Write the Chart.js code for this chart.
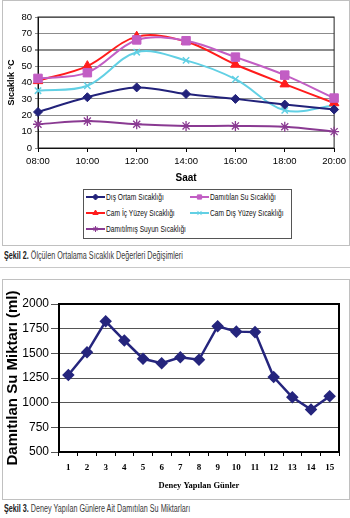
<!DOCTYPE html>
<html>
<head>
<meta charset="utf-8">
<script src="https://cdn.jsdelivr.net/npm/chart.js@4.4.0/dist/chart.umd.min.js"></script>
<style>
body { margin:0; width:350px; height:518px; position:relative; background:#fff; overflow:hidden; font-family:'Liberation Sans', Arial, sans-serif; }
.frame { position:absolute; border:1px solid #c0c0c0; box-sizing:border-box; }
#frame1 { left:2px; top:0; width:348px; height:246px; }
#frame2 { left:2px; top:279px; width:348px; height:221px; }
#sep { position:absolute; left:0; top:267px; width:350px; border-top:1px solid #c8c8c8; }
.cap { position:absolute; left:4px; font-family:'Liberation Sans', Arial, sans-serif; font-size:10px; color:#3a3a3a; white-space:nowrap; transform:scaleX(0.72); transform-origin:0 0; }
.cap b { color:#222; }
#cap1 { top:250px; }
#cap2 { top:503px; }
#wrap1 { position:absolute; left:0; top:0; width:350px; height:190px; }
#wrap2 { position:absolute; left:0; top:280px; width:350px; height:215px; }
#legend1 { position:absolute; left:83px; top:189px; width:209px; height:50px; border:1px solid #555; box-sizing:border-box; background:#fff; }
.li { position:absolute; height:10px; }
.li canvas { position:absolute; left:0; top:0; }
.li span { position:absolute; left:20px; top:0; line-height:10px; font-family:'Liberation Sans', Arial, sans-serif; font-size:9px; color:#111; white-space:nowrap; transform:scaleX(0.74); transform-origin:0 50%; }
</style>
</head>
<body>
<div class="frame" id="frame1"></div>
<div id="wrap1"><canvas id="tempChart"></canvas></div>
<div id="legend1"></div>
<div class="cap" id="cap1"><b>Şekil 2.</b> Ölçülen Ortalama Sıcaklık Değerleri Değişimleri</div>
<div id="sep"></div>
<div class="frame" id="frame2"></div>
<div id="wrap2"><canvas id="waterChart"></canvas></div>
<div class="cap" id="cap2"><b>Şekil 3.</b> Deney Yapılan Günlere Ait Damıtılan Su Miktarları</div>
<script>
// chart 1 - temperatures
var hours = ['08:00', '10:00', '12:00', '14:00', '16:00', '18:00', '20:00'];
var disOrtam = [22, 31, 37, 33, 30, 26.5, 23.5];
var damitilanSu = [42.5, 46, 66, 65.5, 55.5, 44.5, 30.5];
var camIc = [41, 50, 68, 65, 51, 39, 27.5];
var camDis = [35, 38, 58.5, 53.5, 42, 23, 26];
var damitilmis = [14.5, 16.5, 14.5, 13.5, 13.5, 13, 10];
var tempMin = 0, tempMax = 80, tempStep = 10;

// chart 2 - distilled water
var days = ['1', '2', '3', '4', '5', '6', '7', '8', '9', '10', '11', '12', '13', '14', '15'];
var water = [1280, 1510, 1825, 1630, 1445, 1400, 1460, 1435, 1775, 1720, 1715, 1260, 1055, 930, 1065];
var waterMin = 500, waterMax = 2000, waterStep = 250;

var SANS = "'Liberation Sans', Arial, sans-serif";
var SERIF = "'Liberation Serif', 'Times New Roman', serif";

// border round the plot area
var plotFrame = {
    id: 'plotFrame',
    beforeDatasetsDraw: function (chart, args, opts) {
        var a = chart.chartArea, ctx = chart.ctx;
        ctx.save();
        ctx.strokeStyle = opts.color || '#000';
        ctx.lineWidth = opts.width || 1;
        ctx.strokeRect(a.left, a.top, a.right - a.left, a.bottom - a.top);
        ctx.restore();
    }
};

function serie(label, data, color, style, radius, bw) {
    return {
        label: label,
        data: data,
        borderColor: color,
        backgroundColor: color,
        pointBackgroundColor: color,
        pointBorderColor: color,
        pointStyle: style,
        pointRadius: radius,
        pointBorderWidth: bw,
        borderWidth: 2,
        tension: 0.35,
        fill: false
    };
}

var ctx1 = document.getElementById('tempChart');
var tempChart = new Chart(ctx1, {
    type: 'line',
    data: {
        labels: hours,
        datasets: [
            serie('Dış Ortam Sıcaklığı', disOrtam, '#22227a', 'rectRot', 4.5, 1),
            serie('Damıtılan Su Sıcaklığı', damitilanSu, '#c25ec4', 'rect', 6, 1),
            serie('Cam İç Yüzey Sıcaklığı', camIc, '#ff1c1c', 'triangle', 5.5, 1),
            serie('Cam Dış Yüzey Sıcaklığı', camDis, '#62d0e4', 'crossRot', 4.5, 1.5),
            serie('Damıtılmış Suyun Sıcaklığı', damitilmis, '#8a3a92', 'star', 5, 1.3)
        ]
    },
    options: {
        responsive: true,
        maintainAspectRatio: false,
        animation: false,
        clip: false,
        layout: { padding: { top: 17, right: 12, left: 0, bottom: 0 } },
        plugins: {
            legend: { display: false },
            tooltip: { enabled: false },
            plotFrame: { color: '#222', width: 1 }
        },
        scales: {
            x: {
                offset: false,
                grid: { drawOnChartArea: false, drawTicks: true, tickLength: 4, color: '#000' },
                border: { color: '#000', width: 1 },
                ticks: { font: { family: SANS, size: 9.5 }, color: '#000', padding: 4, maxRotation: 0 },
                title: { display: true, text: 'Saat', font: { family: SANS, size: 10, weight: 'bold' }, color: '#000', padding: { top: 0, bottom: 6 } },
                afterFit: function (s) { s.height = 42; }
            },
            y: {
                min: tempMin,
                max: tempMax,
                ticks: { stepSize: tempStep, font: { family: SANS, size: 9.5 }, color: '#000', padding: 3 },
                grid: {
                    color: '#8c8c8c',
                    tickLength: 3,
                    lineWidth: function (c) { return c.tick && c.tick.value === 60 ? 2 : 1; }
                },
                border: { color: '#000', width: 1 },
                title: { display: true, text: 'Sıcaklık °C', font: { family: SANS, size: 9, weight: 'bold' }, color: '#000', padding: { top: 6, bottom: 0 } },
                afterFit: function (s) { s.width = 38; }
            }
        }
    },
    plugins: [plotFrame]
});

// legend, two columns as in the original
var legendBox = document.getElementById('legend1');
tempChart.data.datasets.forEach(function (ds, i) {
    var item = document.createElement('div');
    item.className = 'li';
    item.style.left = (i % 2 === 0 ? 2 : 106) + 'px';
    item.style.top = (2 + Math.floor(i / 2) * 16) + 'px';
    var ic = document.createElement('canvas');
    ic.width = 19; ic.height = 10;
    var c = ic.getContext('2d');
    c.strokeStyle = ds.borderColor;
    c.fillStyle = ds.borderColor;
    c.lineWidth = 2;
    c.beginPath(); c.moveTo(0, 5); c.lineTo(19, 5); c.stroke();
    if (Chart.helpers && Chart.helpers.drawPoint) {
        c.lineWidth = 1;
        Chart.helpers.drawPoint(c, { pointStyle: ds.pointStyle, radius: 3, borderWidth: 1, rotation: 0 }, 9.5, 5);
    }
    var sp = document.createElement('span');
    sp.textContent = ds.label;
    item.appendChild(ic);
    item.appendChild(sp);
    legendBox.appendChild(item);
});

var ctx2 = document.getElementById('waterChart');
var waterChart = new Chart(ctx2, {
    type: 'line',
    data: {
        labels: days,
        datasets: [{
            label: 'Damıtılan Su Miktarı (ml)',
            data: water,
            borderColor: '#25257d',
            backgroundColor: '#25257d',
            pointBackgroundColor: '#25257d',
            pointBorderColor: '#25257d',
            pointStyle: 'rectRot',
            pointRadius: 4.5,
            borderWidth: 2.5,
            tension: 0,
            fill: false
        }]
    },
    options: {
        responsive: true,
        maintainAspectRatio: false,
        animation: false,
        clip: false,
        layout: { padding: { top: 24, right: 11, left: 0, bottom: 0 } },
        plugins: {
            legend: { display: false },
            tooltip: { enabled: false },
            plotFrame: { color: '#000', width: 2 }
        },
        scales: {
            x: {
                offset: true,
                grid: { offset: true, drawOnChartArea: false, drawTicks: true, tickLength: 4, color: '#000' },
                border: { color: '#000', width: 2 },
                ticks: { font: { family: SERIF, size: 9, weight: 'bold' }, color: '#000', padding: 6, maxRotation: 0, autoSkip: false },
                title: { display: true, text: 'Deney Yapılan Günler', font: { family: SERIF, size: 8.5, weight: 'bold' }, color: '#000', padding: { top: 0, bottom: 4 } },
                afterFit: function (s) { s.height = 43; }
            },
            y: {
                min: waterMin,
                max: waterMax,
                ticks: {
                    stepSize: waterStep,
                    font: { family: SANS, size: 12 },
                    color: '#000',
                    padding: 2,
                    callback: function (v) { return String(v); }
                },
                grid: { color: '#555', tickLength: 8, lineWidth: 1 },
                border: { color: '#000', width: 2 },
                title: { display: true, text: 'Damıtılan Su Miktarı (ml)', font: { family: SANS, size: 15, weight: 'bold' }, color: '#000', padding: { top: 4, bottom: 0 } },
                afterFit: function (s) { s.width = 59; }
            }
        }
    },
    plugins: [plotFrame]
});
</script>
</body>
</html>
